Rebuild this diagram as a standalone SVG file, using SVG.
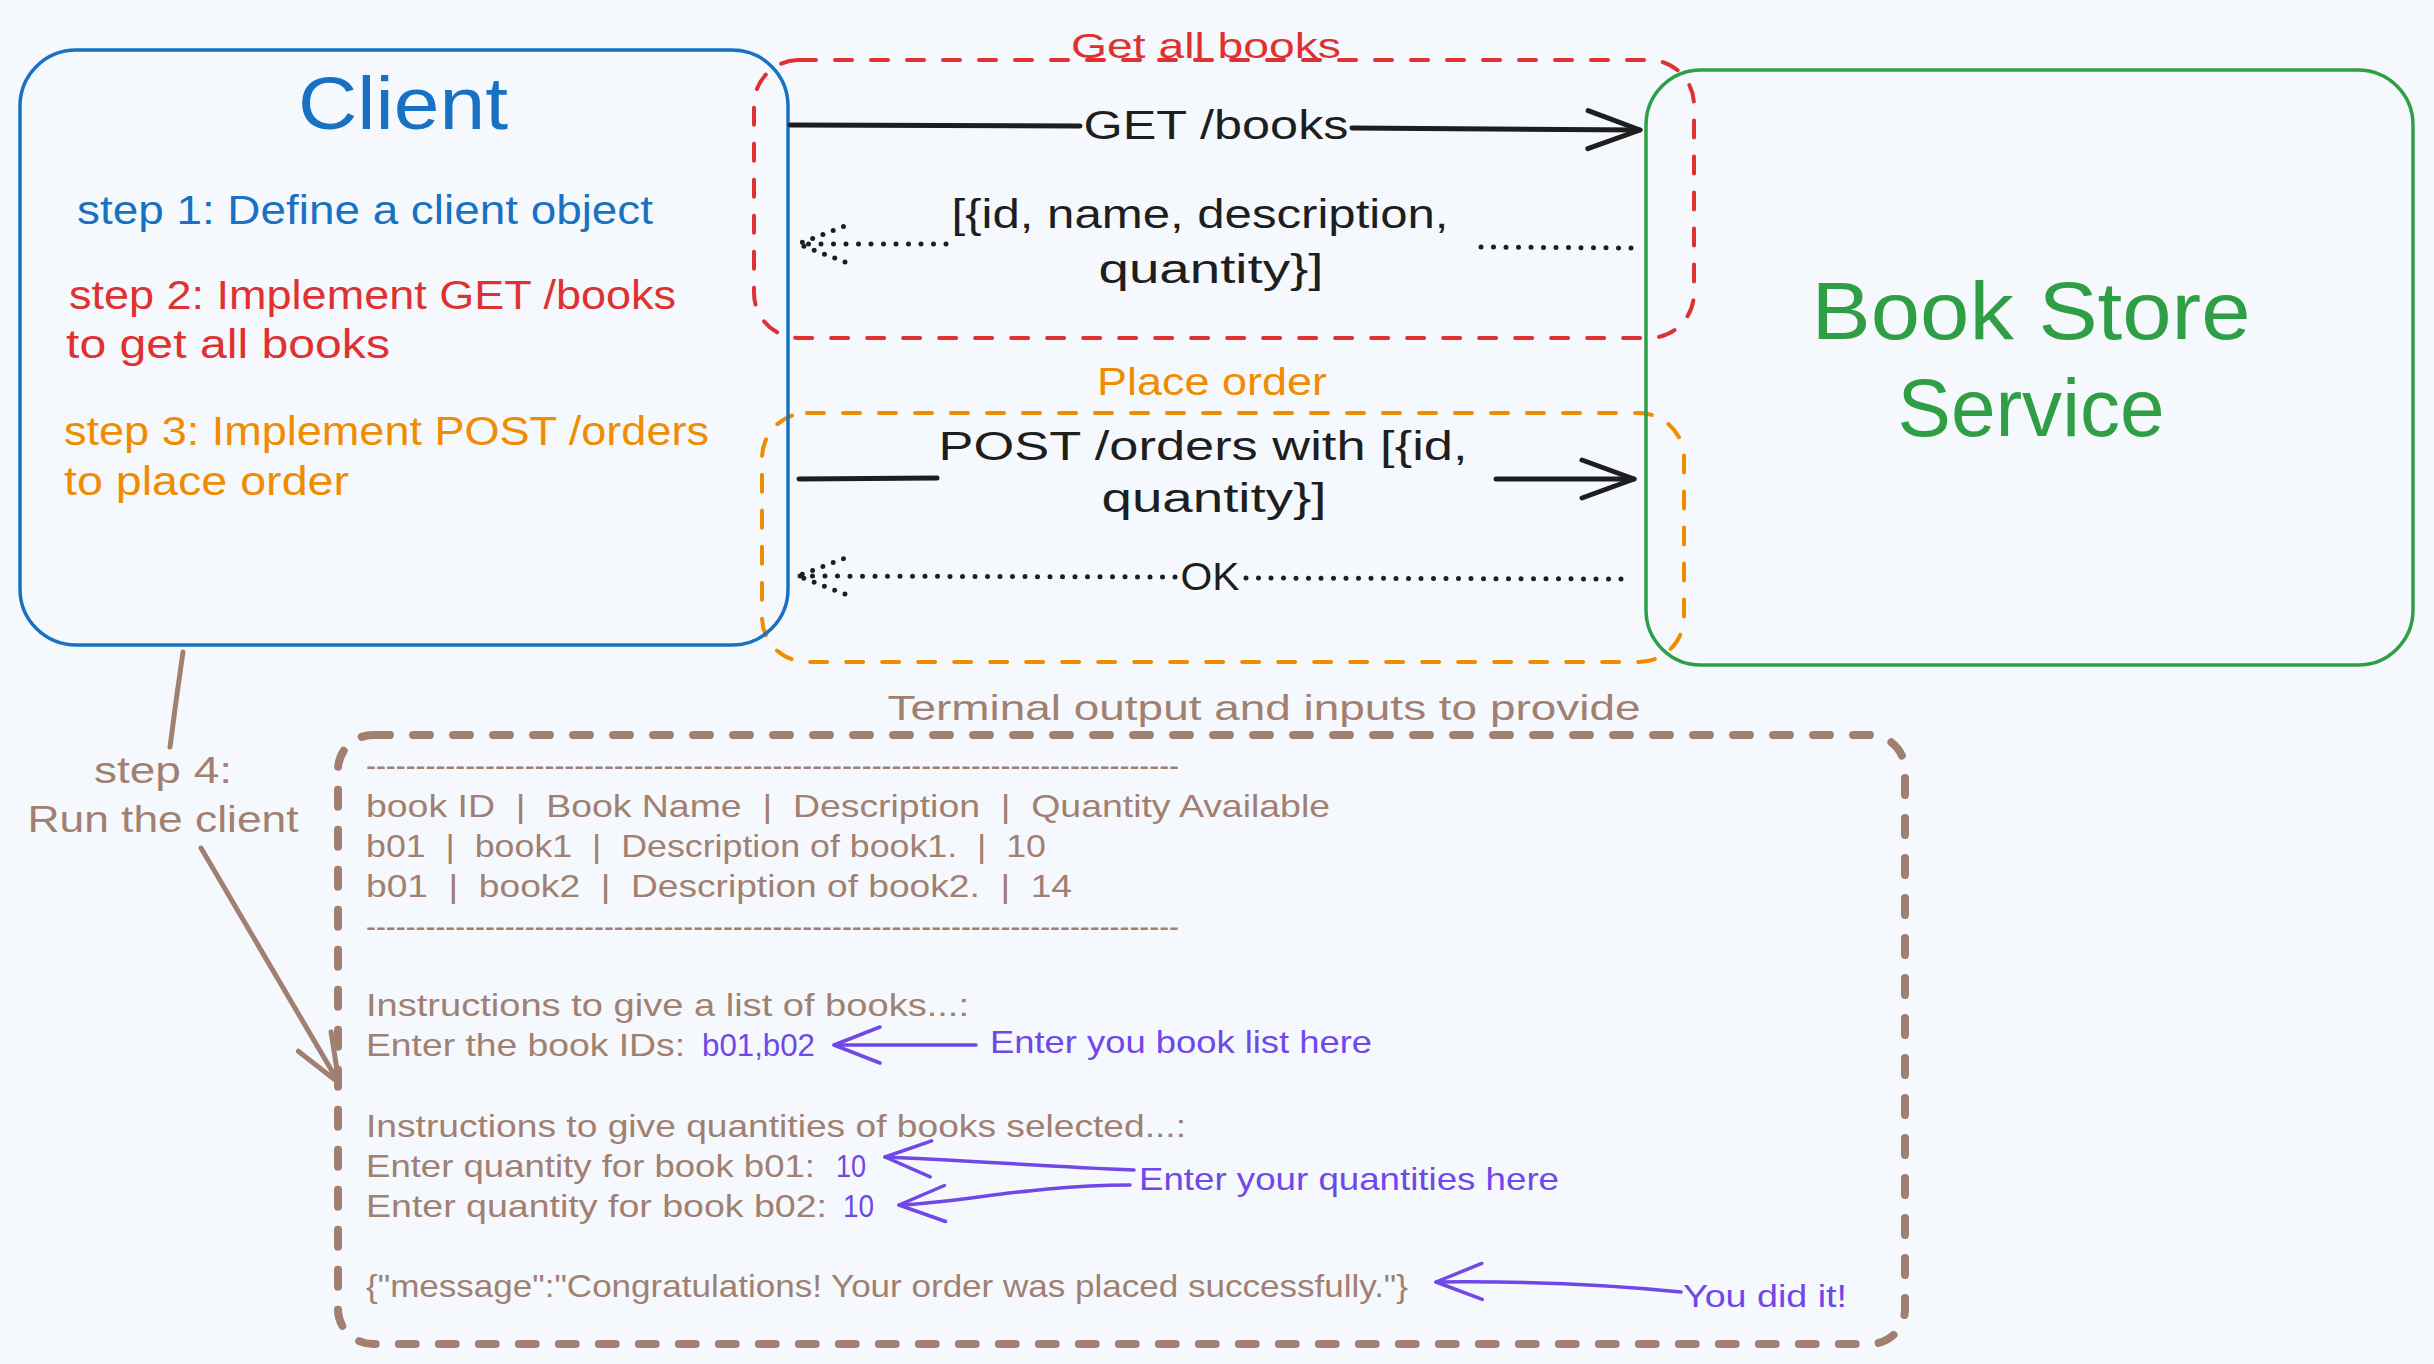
<svg xmlns="http://www.w3.org/2000/svg" width="2434" height="1364" viewBox="0 0 2434 1364">
<style>
text{font-family:"Liberation Sans",Arial,sans-serif;}
.ln{fill:none;stroke-linecap:round;stroke-linejoin:round;}
.blk{stroke:#1e1e1e;stroke-width:5;}
.dot{stroke:#1e1e1e;stroke-width:5;stroke-dasharray:0 12.5;}
.brn{stroke:#a18072;stroke-width:5;}
.pur{stroke:#7048e8;stroke-width:3.5;}
.tb{fill:#1e1e1e;}
.tbr{fill:#a18072;font-size:32px;white-space:pre;}
.tpu{fill:#7048e8;}
</style>
<defs>
<marker id="aBlk" markerUnits="userSpaceOnUse" orient="auto" refX="0" refY="0" markerWidth="60" markerHeight="50" overflow="visible"><path d="M-52,-19 L0,0 L-52,19" fill="none" stroke="#1e1e1e" stroke-width="5" stroke-linecap="round" stroke-linejoin="round"/></marker>
<marker id="aDot" markerUnits="userSpaceOnUse" orient="auto" refX="0" refY="0" markerWidth="60" markerHeight="50" overflow="visible"><path d="M-47,-18 L0,0 L-47,18" fill="none" stroke="#1e1e1e" stroke-width="5" stroke-dasharray="0 11" stroke-linecap="round"/></marker>
<marker id="aBrn" markerUnits="userSpaceOnUse" orient="auto" refX="0" refY="0" markerWidth="60" markerHeight="50" overflow="visible"><path d="M-48,-19 L0,0 L-48,19" fill="none" stroke="#a18072" stroke-width="5" stroke-linecap="round" stroke-linejoin="round"/></marker>
<marker id="aPur" markerUnits="userSpaceOnUse" orient="auto" refX="0" refY="0" markerWidth="60" markerHeight="50" overflow="visible"><path d="M-46,-18 L0,0 L-46,18" fill="none" stroke="#7048e8" stroke-width="3.5" stroke-linecap="round" stroke-linejoin="round"/></marker>
</defs>
<rect width="2434" height="1364" fill="#f5f9fd"/>

<g id="group-get-all-books">
<rect x="754" y="60" width="940" height="278" rx="45" class="ln" stroke="#e03131" stroke-width="4" stroke-dasharray="17 19"/>
<text x="1206" y="58" font-size="35" fill="#e03131" text-anchor="middle" textLength="270" lengthAdjust="spacingAndGlyphs">Get all books</text>
</g>

<g id="group-place-order">
<rect x="762" y="413" width="922" height="249" rx="45" class="ln" stroke="#f08c00" stroke-width="4" stroke-dasharray="17 19"/>
<text x="1212" y="395" font-size="38" fill="#f08c00" text-anchor="middle" textLength="230" lengthAdjust="spacingAndGlyphs">Place order</text>
</g>

<g id="node-client">
<rect x="20" y="50" width="768" height="595" rx="56" fill="none" stroke="#1971c2" stroke-width="3.5"/>
<text x="403" y="129" font-size="74" fill="#1971c2" text-anchor="middle" textLength="210" lengthAdjust="spacingAndGlyphs">Client</text>
<text x="77" y="224" font-size="40" fill="#1971c2" textLength="576" lengthAdjust="spacingAndGlyphs">step 1: Define a client object</text>
<text x="69" y="309" font-size="40" fill="#e03131" textLength="607" lengthAdjust="spacingAndGlyphs">step 2: Implement GET /books</text>
<text x="66" y="358" font-size="40" fill="#e03131" textLength="324" lengthAdjust="spacingAndGlyphs">to get all books</text>
<text x="64" y="445" font-size="40" fill="#f08c00" textLength="645" lengthAdjust="spacingAndGlyphs">step 3: Implement POST /orders</text>
<text x="64" y="495" font-size="40" fill="#f08c00" textLength="285" lengthAdjust="spacingAndGlyphs">to place order</text>
</g>

<g id="node-book-store-service">
<rect x="1646" y="70" width="767" height="595" rx="55" fill="none" stroke="#2f9e44" stroke-width="3.5"/>
<text x="2031" y="339" font-size="82" fill="#2f9e44" text-anchor="middle" textLength="439" lengthAdjust="spacingAndGlyphs">Book Store</text>
<text x="2031" y="436" font-size="82" fill="#2f9e44" text-anchor="middle" textLength="267" lengthAdjust="spacingAndGlyphs">Service</text>
</g>

<g id="node-terminal">
<rect x="338" y="735" width="1567" height="609" rx="35" class="ln" stroke="#a18072" stroke-width="8" stroke-dasharray="17 23"/>
<text x="1264" y="720" font-size="35" fill="#a18072" text-anchor="middle" textLength="753" lengthAdjust="spacingAndGlyphs">Terminal output and inputs to provide</text>
<text x="366" y="776" class="tbr" textLength="813" lengthAdjust="spacingAndGlyphs">----------------------------------------------------------------------------------</text>
<text x="366" y="817" class="tbr" xml:space="preserve" textLength="964" lengthAdjust="spacingAndGlyphs">book ID  |  Book Name  |  Description  |  Quantity Available</text>
<text x="366" y="857" class="tbr" xml:space="preserve" textLength="680" lengthAdjust="spacingAndGlyphs">b01  |  book1  |  Description of book1.  |  10</text>
<text x="366" y="897" class="tbr" xml:space="preserve" textLength="706" lengthAdjust="spacingAndGlyphs">b01  |  book2  |  Description of book2.  |  14</text>
<text x="366" y="937" class="tbr" textLength="813" lengthAdjust="spacingAndGlyphs">----------------------------------------------------------------------------------</text>
<text x="366" y="1016" class="tbr" textLength="603" lengthAdjust="spacingAndGlyphs">Instructions to give a list of books...:</text>
<text x="366" y="1056" class="tbr" textLength="319" lengthAdjust="spacingAndGlyphs">Enter the book IDs:</text>
<text x="702" y="1056" font-size="32" class="tpu" textLength="113" lengthAdjust="spacingAndGlyphs">b01,b02</text>
<text x="366" y="1137" class="tbr" textLength="820" lengthAdjust="spacingAndGlyphs">Instructions to give quantities of books selected...:</text>
<text x="366" y="1177" class="tbr" textLength="449" lengthAdjust="spacingAndGlyphs">Enter quantity for book b01:</text>
<text x="836" y="1177" font-size="32" class="tpu" textLength="30" lengthAdjust="spacingAndGlyphs">10</text>
<text x="366" y="1217" class="tbr" textLength="461" lengthAdjust="spacingAndGlyphs">Enter quantity for book b02:</text>
<text x="843" y="1217" font-size="32" class="tpu" textLength="31" lengthAdjust="spacingAndGlyphs">10</text>
<text x="366" y="1297" class="tbr" textLength="1042" lengthAdjust="spacingAndGlyphs">{"message":"Congratulations! Your order was placed successfully."}</text>
</g>

<g id="note-step4">
<text x="163" y="783" font-size="37" fill="#a18072" text-anchor="middle" textLength="138" lengthAdjust="spacingAndGlyphs">step 4:</text>
<text x="163" y="832" font-size="37" fill="#a18072" text-anchor="middle" textLength="271" lengthAdjust="spacingAndGlyphs">Run the client</text>
</g>

<g id="notes-purple">
<text x="990" y="1053" font-size="32" class="tpu" textLength="382" lengthAdjust="spacingAndGlyphs">Enter you book list here</text>
<text x="1139" y="1190" font-size="32" class="tpu" textLength="420" lengthAdjust="spacingAndGlyphs">Enter your quantities here</text>
<text x="1683" y="1307" font-size="31" class="tpu" textLength="164" lengthAdjust="spacingAndGlyphs">You did it!</text>
</g>

<g id="connectors">
<path class="ln blk" d="M790 125 L1080 126"/>
<path class="ln blk" d="M1352 128 L1640 130" marker-end="url(#aBlk)"/>
<text x="1216" y="139" font-size="41" class="tb" text-anchor="middle" textLength="265" lengthAdjust="spacingAndGlyphs">GET /books</text>

<path class="ln dot" d="M1631 248 L1474 247"/>
<path class="ln dot" d="M946 244 L798 244" marker-end="url(#aDot)"/>
<text x="1200" y="228" font-size="40" class="tb" text-anchor="middle" textLength="497" lengthAdjust="spacingAndGlyphs">[{id, name, description,</text>
<text x="1211" y="283" font-size="40" class="tb" text-anchor="middle" textLength="225" lengthAdjust="spacingAndGlyphs">quantity}]</text>

<path class="ln blk" d="M799 479 L937 478" stroke-width="6"/>
<path class="ln blk" d="M1496 479 L1634 479" marker-end="url(#aBlk)"/>
<text x="1203" y="460" font-size="40" class="tb" text-anchor="middle" textLength="529" lengthAdjust="spacingAndGlyphs">POST /orders with [{id,</text>
<text x="1214" y="512" font-size="40" class="tb" text-anchor="middle" textLength="225" lengthAdjust="spacingAndGlyphs">quantity}]</text>

<path class="ln dot" d="M1621 579 L1244 578"/>
<path class="ln dot" d="M1175 577 L798 576" marker-end="url(#aDot)"/>
<text x="1210" y="590" font-size="38" class="tb" text-anchor="middle" textLength="59" lengthAdjust="spacingAndGlyphs">OK</text>

<path class="ln brn" d="M183 652 Q176 700 170 747"/>
<path class="ln brn" d="M201 848 L339 1083" marker-end="url(#aBrn)"/>

<path class="ln pur" d="M976 1045 L834 1045" marker-end="url(#aPur)"/>
<path class="ln pur" d="M1134 1170 C1040 1166 960 1160 885 1157" marker-end="url(#aPur)"/>
<path class="ln pur" d="M1130 1185 C1030 1185 960 1203 899 1205" marker-end="url(#aPur)"/>
<path class="ln pur" d="M1681 1292 C1600 1284 1520 1281 1436 1282" marker-end="url(#aPur)"/>
</g>
</svg>
